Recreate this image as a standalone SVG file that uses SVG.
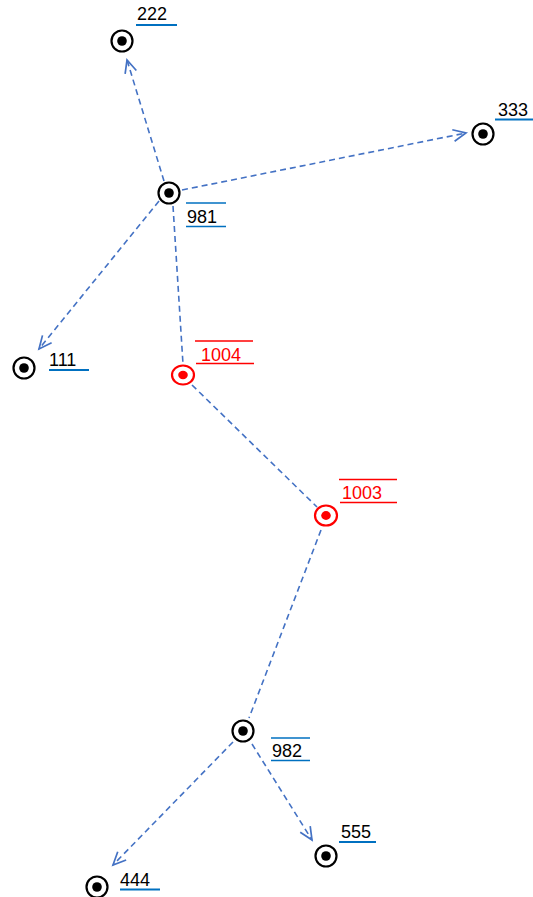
<svg xmlns="http://www.w3.org/2000/svg" width="533" height="897" viewBox="0 0 533 897">
<style>
.bg{fill:#fff}
.ring{fill:#fff;stroke:#000;stroke-width:2.2}
.dot{fill:#000}
.ringr{fill:#fff;stroke:#f00;stroke-width:2.2}
.dotr{fill:#f00}
.lbl{font-family:"Liberation Sans",Arial,sans-serif;font-size:18px;fill:#000}
.lblr{font-family:"Liberation Sans",Arial,sans-serif;font-size:18px;fill:#f00}
.ul{stroke:#0070C0;stroke-width:2}
.ol{stroke:#0070C0;stroke-width:1.3}
.ulr{stroke:#f00;stroke-width:1.5}
.con{stroke:#4472C4;stroke-width:1.6;stroke-dasharray:6 4;fill:none}
</style>
<defs>
<marker id="arr" markerUnits="userSpaceOnUse" markerWidth="16" markerHeight="16" viewBox="-1 -7 15 14" refX="12" refY="0" orient="auto">
<path d="M0,-5.5 L12,0 L0,5.5" fill="none" stroke="#4472C4" stroke-width="1.6"/>
</marker>
</defs>
<rect class="bg" x="0" y="0" width="533" height="897"/>
<g id="connectors">
<line class="con" x1="164" y1="181" x2="127" y2="60" marker-end="url(#arr)"/>
<line class="con" x1="182" y1="190" x2="466" y2="133" marker-end="url(#arr)"/>
<line class="con" x1="159" y1="201" x2="39" y2="349" marker-end="url(#arr)"/>
<line class="con" x1="173" y1="206" x2="183" y2="364"/>
<line class="con" x1="192" y1="385" x2="317" y2="507"/>
<line class="con" x1="321" y1="530" x2="249" y2="718"/>
<line class="con" x1="233" y1="742" x2="113" y2="865" marker-end="url(#arr)"/>
<line class="con" x1="252" y1="744" x2="312" y2="840" marker-end="url(#arr)"/>
</g>
<g id="n222">
<circle class="ring" cx="122" cy="41" r="10.5"/><circle class="dot" cx="122" cy="41" r="4.8"/>
<text class="lbl" x="137" y="20">222</text>
<line class="ul" x1="136" y1="25" x2="177" y2="25"/>
</g>
<g id="n333">
<circle class="ring" cx="483" cy="134" r="10.5"/><circle class="dot" cx="483" cy="134" r="4.8"/>
<text class="lbl" x="498" y="116">333</text>
<line class="ul" x1="495" y1="119.5" x2="533" y2="119.5"/>
</g>
<g id="n981">
<circle class="ring" cx="169" cy="193" r="10.5"/><circle class="dot" cx="169" cy="193" r="4.8"/>
<line class="ol" x1="186" y1="203" x2="226" y2="203"/>
<text class="lbl" x="187" y="223">981</text>
<line class="ol" x1="186" y1="226.5" x2="226" y2="226.5"/>
</g>
<g id="n111">
<circle class="ring" cx="24" cy="368" r="10.5"/><circle class="dot" cx="24" cy="368" r="4.8"/>
<text class="lbl" x="49" y="366">111</text>
<line class="ul" x1="49" y1="370" x2="89" y2="370"/>
</g>
<g id="n1004">
<ellipse class="ringr" cx="183" cy="375" rx="11" ry="9.5"/><ellipse class="dotr" cx="183" cy="375" rx="4.8" ry="4.2"/>
<line class="ulr" x1="195" y1="341" x2="253" y2="341"/>
<text class="lblr" x="201" y="361">1004</text>
<line class="ulr" x1="196" y1="363.5" x2="254" y2="363.5"/>
</g>
<g id="n1003">
<ellipse class="ringr" cx="326" cy="515.5" rx="11" ry="10"/><ellipse class="dotr" cx="326" cy="515.5" rx="4.8" ry="4.4"/>
<line class="ulr" x1="339" y1="479.5" x2="397" y2="479.5"/>
<text class="lblr" x="342" y="499">1003</text>
<line class="ulr" x1="340" y1="502.5" x2="397" y2="502.5"/>
</g>
<g id="n982">
<circle class="ring" cx="243" cy="731" r="10.5"/><circle class="dot" cx="243" cy="731" r="4.8"/>
<line class="ol" x1="271" y1="738" x2="310" y2="738"/>
<text class="lbl" x="272" y="757">982</text>
<line class="ol" x1="271" y1="760.5" x2="310" y2="760.5"/>
</g>
<g id="n444">
<circle class="ring" cx="97" cy="887" r="10.5"/><circle class="dot" cx="97" cy="887" r="4.8"/>
<text class="lbl" x="120" y="886">444</text>
<line class="ul" x1="120" y1="889.5" x2="160" y2="889.5"/>
</g>
<g id="n555">
<circle class="ring" cx="326" cy="856" r="10.5"/><circle class="dot" cx="326" cy="856" r="4.8"/>
<text class="lbl" x="341" y="838">555</text>
<line class="ul" x1="339" y1="842" x2="376" y2="842"/>
</g>
</svg>
